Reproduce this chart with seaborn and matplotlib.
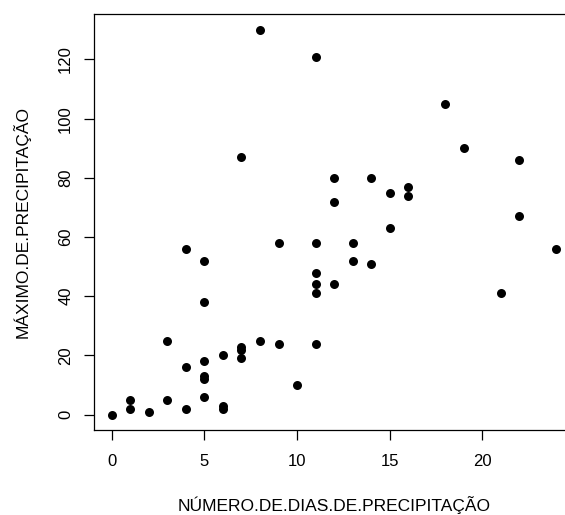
import matplotlib
matplotlib.use("Agg")
import matplotlib.pyplot as plt
import seaborn as sns
import pandas as pd

dias = [0, 1, 1, 2, 3, 3, 4, 4, 4, 5, 5, 5, 5, 5, 5, 6, 6, 6, 7, 7, 7, 7, 8, 8, 9, 9,
        10, 11, 11, 11, 11, 11, 11, 12, 12, 12, 13, 13, 14, 14, 15, 15, 16, 16,
        18, 19, 21, 22, 22, 24]
maximo = [0, 5, 2, 1, 25, 5, 56, 16, 2, 52, 38, 18, 13, 12, 6, 20, 3, 2, 23, 22, 19, 87, 25, 130, 58, 24,
          10, 121, 58, 48, 44, 41, 24, 80, 72, 44, 58, 52, 80, 51, 75, 63, 77, 74,
          105, 90, 41, 86, 67, 56]
xticks = [0, 5, 10, 15, 20]
yticks = [0, 20, 40, 60, 80, 100, 120]
xlabel = "NÚMERO.DE.DIAS.DE.PRECIPITAÇÃO"
ylabel = "MÁXIMO.DE.PRECIPITAÇÃO"

df = pd.DataFrame({"x": dias, "y": maximo})

sns.set_style("white")
plt.rcParams['font.family'] = ['Liberation Sans', 'DejaVu Sans']
plt.rcParams.update({"text.color": "black", "axes.labelcolor": "black",
                     "xtick.color": "black", "ytick.color": "black"})

W, H = 565, 515
fig = plt.figure(figsize=(W / 100, H / 100), dpi=100)
left, right, bottom, top = 94, 574.2, 430, 14.5
ax = fig.add_axes([left / W, (H - bottom) / H, (right - left) / W, (bottom - top) / H])

sns.scatterplot(data=df, x="x", y="y", ax=ax, color="black", s=42, linewidth=0, zorder=3)

ax.set_xlim(-0.96, 24.96)
ax.set_ylim(-5.2, 135.2)
ax.set_xticks(xticks)
ax.set_yticks(yticks)
ax.set_xticklabels([str(v) for v in xticks], fontsize=12)
ax.set_yticklabels([str(v) for v in yticks], fontsize=12, rotation=90, va="center")
ax.tick_params(axis="both", direction="out", length=7, width=0.9, colors="black",
               bottom=True, left=True)
ax.tick_params(axis="x", pad=10)
ax.tick_params(axis="y", pad=8)
for s in ax.spines.values():
    s.set_color("black")
    s.set_linewidth(0.9)

ax.set_xlabel(xlabel, fontsize=12.5, labelpad=20, color="black")
ax.set_ylabel(ylabel, fontsize=12.5, labelpad=20, color="black")

fig.savefig("out.png", dpi=100)
